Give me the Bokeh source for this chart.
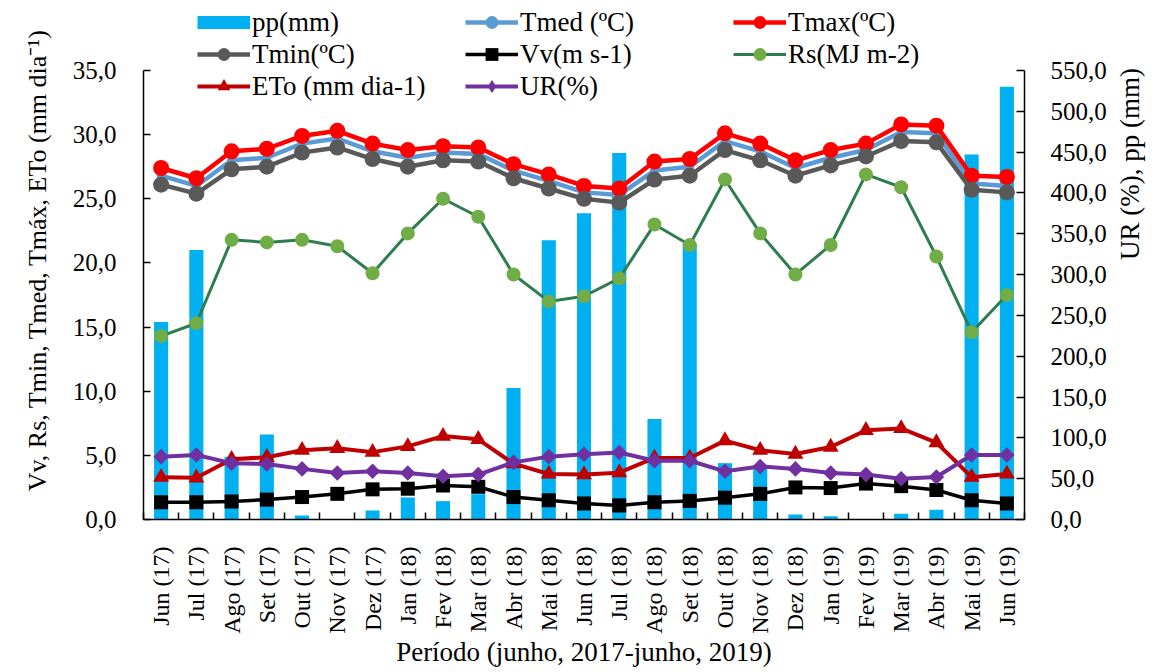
import math
from bokeh.plotting import figure
from bokeh.models import (Range1d, LinearAxis, SingleIntervalTicker, FixedTicker, Title,
                          CustomJSTickFormatter, Legend, LegendItem, ColumnDataSource)
from bokeh.embed import file_html
from bokeh.resources import INLINE

months = ["Jun (17)", "Jul (17)", "Ago (17)", "Set (17)", "Out (17)", "Nov (17)", "Dez (17)",
          "Jan (18)", "Fev (18)", "Mar (18)", "Abr (18)", "Mai (18)", "Jun (18)", "Jul (18)",
          "Ago (18)", "Set (18)", "Out (18)", "Nov (18)", "Dez (18)", "Jan (19)", "Fev (19)",
          "Mar (19)", "Abr (19)", "Mai (19)", "Jun (19)"]

pp = [242, 330, 77, 104, 5, 0, 11, 27, 22.5, 31, 161, 342, 375, 449, 123, 338, 69, 66,
      6, 4, 0, 7, 12, 447, 530]
tmed = [26.8, 26.0, 28.0, 28.2, 29.3, 29.7, 28.7, 28.2, 28.6, 28.5, 27.2, 26.4, 25.5, 25.3,
        27.2, 27.5, 29.5, 28.7, 27.4, 28.2, 28.8, 30.2, 30.1, 26.2, 26.0]
tmax = [27.4, 26.6, 28.7, 28.9, 29.9, 30.3, 29.3, 28.8, 29.1, 29.0, 27.7, 26.9, 26.0, 25.8,
        27.9, 28.1, 30.1, 29.3, 28.0, 28.8, 29.3, 30.8, 30.7, 26.8, 26.7]
tmin = [26.1, 25.4, 27.3, 27.5, 28.6, 29.0, 28.1, 27.5, 28.0, 27.9, 26.6, 25.8, 25.0, 24.7,
        26.5, 26.8, 28.8, 28.0, 26.8, 27.6, 28.3, 29.5, 29.4, 25.7, 25.5]
vv = [1.35, 1.35, 1.4, 1.55, 1.75, 2.0, 2.35, 2.4, 2.65, 2.55, 1.75, 1.5, 1.25, 1.1,
      1.35, 1.45, 1.7, 2.0, 2.5, 2.45, 2.8, 2.6, 2.3, 1.5, 1.25]
rs = [14.3, 15.3, 21.8, 21.6, 21.8, 21.3, 19.2, 22.3, 25.0, 23.6, 19.1, 17.0, 17.4, 18.8,
      23.0, 21.4, 26.5, 22.3, 19.1, 21.4, 26.9, 25.9, 20.5, 14.6, 17.5]
eto = [3.3, 3.25, 4.7, 4.85, 5.4, 5.55, 5.25, 5.7, 6.5, 6.25, 4.35, 3.55, 3.5, 3.65,
       4.8, 4.8, 6.15, 5.4, 5.1, 5.65, 6.95, 7.1, 6.0, 3.3, 3.55]
ur = [77, 79, 69, 68, 62, 57, 59, 57, 53, 55, 70, 77, 80, 82, 72, 72, 59, 65, 62, 57,
      55, 50, 52, 79, 79]

left_max = 35
right_max = 550
left_ticks_interval = 5
right_ticks_interval = 50

W, H = 1163, 672
BORDER_L, BORDER_R, BORDER_B = 143, 139, 153
AXIS_TOP_PX = 70          # room above the axis tops, inside the frame, for the legend
RIGHT_TITLE_START_PX = 399  # where the right axis title starts (its lower end)
frame_h = H - BORDER_B
left_end = left_max * frame_h / (frame_h - AXIS_TOP_PX)
right_end = right_max * frame_h / (frame_h - AXIS_TOP_PX)
right_title_anchor = (frame_h - RIGHT_TITLE_START_PX) * right_end / frame_h

x = list(range(len(months)))
tick_labels = [m.replace(" ", "\u00a0") for m in months]
src = ColumnDataSource(dict(x=x, pp=pp, tmed=tmed, tmax=tmax, tmin=tmin, vv=vv, rs=rs,
                            eto=eto, ur=ur))
# legend-only glyphs: a single undefined point, so nothing is drawn in the plot
leg_src = ColumnDataSource(dict(x=[float("nan")], y=[float("nan")]))

FONT = "Liberation Serif"

p = figure(width=W, height=H, x_range=Range1d(-0.5, len(months) - 0.5),
           y_range=Range1d(0, left_end), output_backend="svg", toolbar_location=None,
           min_border_left=BORDER_L, min_border_right=BORDER_R, min_border_top=0,
           min_border_bottom=BORDER_B)
p.extra_y_ranges = {"right": Range1d(0, right_end)}
p.outline_line_color = None
p.xgrid.visible = False
p.ygrid.visible = False

fmt_code = "return tick.toFixed(1).replace('.', ',');"

# left axis
ya = p.yaxis[0]
ya.ticker = SingleIntervalTicker(interval=left_ticks_interval, num_minor_ticks=0)
ya.formatter = CustomJSTickFormatter(code=fmt_code)
ya.bounds = (0, left_max)
ya.major_tick_in = 7
ya.major_tick_out = 0
ya.minor_tick_line_color = None
ya.major_label_standoff = 27

# right axis (ticks and numbers)
ra = LinearAxis(y_range_name="right",
                ticker=SingleIntervalTicker(interval=right_ticks_interval, num_minor_ticks=0),
                formatter=CustomJSTickFormatter(code=fmt_code), bounds=(0, right_max))
ra.major_tick_in = 8
ra.major_tick_out = 0
ra.minor_tick_line_color = None
ra.major_label_standoff = 26
p.add_layout(ra, "right")

# bottom axis
xa = p.xaxis[0]
xa.ticker = FixedTicker(ticks=x, minor_ticks=[i - 0.5 for i in range(len(months) + 1)])
xa.formatter = CustomJSTickFormatter(args=dict(labels=tick_labels),
                                     code="const i = Math.round(tick); return labels[i] || '';")
xa.major_label_orientation = math.pi / 2
xa.major_tick_in = 0
xa.major_tick_out = 0
xa.minor_tick_in = 7
xa.minor_tick_out = 0
xa.axis_label = "Período (junho, 2017-junho, 2019)"
xa.major_label_standoff = 27
xa.axis_label_standoff = 0

for ax in [ya, ra, xa]:
    ax.axis_line_color = "black"
    ax.axis_line_width = 1.5
    ax.major_tick_line_color = "black"
    ax.major_tick_line_width = 1.5
    ax.major_label_text_font = FONT
    ax.major_label_text_font_size = "25px"
    ax.major_label_text_color = "black"
    ax.axis_label_text_font = FONT
    ax.axis_label_text_font_size = "27px"
    ax.axis_label_text_font_style = "normal"
    ax.axis_label_text_color = "black"
xa.major_label_text_font_size = "24px"
xa.minor_tick_line_color = "black"
xa.minor_tick_line_width = 1.5

# right axis title, carried by a bare axis (no line, no ticks) so it reads upwards
# and sits over the lower part of the right scale, as in the reference
rt = LinearAxis(y_range_name="right", ticker=FixedTicker(ticks=[]),
                bounds=(0, 2 * right_title_anchor), axis_label="UR (%), pp (mm)")
rt.axis_label_orientation = math.pi / 2
rt.axis_line_color = None
rt.major_tick_line_color = None
rt.minor_tick_line_color = None
rt.major_tick_in = 0
rt.major_tick_out = 0
rt.minor_tick_in = 0
rt.minor_tick_out = 0
rt.axis_label_standoff = 20
rt.axis_label_text_font = FONT
rt.axis_label_text_font_size = "27px"
rt.axis_label_text_font_style = "normal"
rt.axis_label_text_color = "black"
p.add_layout(rt, "right")

# left axis title, centred on the 0..35 part of the axis as in the reference
left_title = Title(text="Vv, Rs, Tmin, Tmed, Tmáx, ETo (mm dia\u207b\u00b9)", align="center",
                   offset=-52, standoff=36, text_font=FONT, text_font_size="26px",
                   text_font_style="normal", text_color="black")
p.add_layout(left_title, "left")

# bars
bars = p.vbar(x="x", top="pp", width=0.4, source=src, y_range_name="right",
              fill_color="#00B0F0", line_color=None)
bars_leg = p.line("x", "y", source=leg_src, line_color="#00B0F0", line_width=13)

# Tmed
l_tmed = p.line("x", "tmed", source=src, line_color="#5B9BD5", line_width=4.5)
p.scatter("x", "tmed", source=src, marker="circle", size=9, fill_color="#5B9BD5",
          line_color=None)
m_tmed_leg = p.scatter("x", "y", source=leg_src, marker="circle", size=15,
                       fill_color="#5B9BD5", line_color=None)
# Tmax
l_tmax = p.line("x", "tmax", source=src, line_color="#FF0000", line_width=4.5)
m_tmax = p.scatter("x", "tmax", source=src, marker="circle", size=16, fill_color="#FF0000",
                   line_color=None)
# Tmin
l_tmin = p.line("x", "tmin", source=src, line_color="#595959", line_width=4.5)
m_tmin = p.scatter("x", "tmin", source=src, marker="circle", size=16, fill_color="#595959",
                   line_color=None)
# Vv
l_vv = p.line("x", "vv", source=src, line_color="black", line_width=3.5)
m_vv = p.scatter("x", "vv", source=src, marker="square", size=14, fill_color="black",
                 line_color=None)
# Rs
l_rs = p.line("x", "rs", source=src, line_color="#2E7D4F", line_width=3)
m_rs = p.scatter("x", "rs", source=src, marker="circle", size=14, fill_color="#70AD47",
                 line_color=None)
# ETo
l_eto = p.line("x", "eto", source=src, line_color="#C00000", line_width=4)
m_eto = p.scatter("x", "eto", source=src, marker="triangle", size=16, fill_color="#C00000",
                  line_color=None)
# UR
l_ur = p.line("x", "ur", source=src, line_color="#7030A0", line_width=4, y_range_name="right")
m_ur = p.scatter("x", "ur", source=src, marker="square", angle=0.785398, size=11,
                 fill_color="#7030A0", line_color=None, y_range_name="right")
m_ur_leg = p.scatter("x", "y", source=leg_src, marker="diamond", size=15,
                     fill_color="#7030A0", line_color=None)

legend = Legend(items=[LegendItem(label="pp(mm)", renderers=[bars_leg]),
                       LegendItem(label="Tmed (ºC)", renderers=[l_tmed, m_tmed_leg]),
                       LegendItem(label="Tmax(ºC)", renderers=[l_tmax, m_tmax]),
                       LegendItem(label="Tmin(ºC)", renderers=[l_tmin, m_tmin]),
                       LegendItem(label="Vv(m s-1)", renderers=[l_vv, m_vv]),
                       LegendItem(label="Rs(MJ m-2)", renderers=[l_rs, m_rs]),
                       LegendItem(label="ETo (mm dia-1)", renderers=[l_eto, m_eto]),
                       LegendItem(label="UR(%)", renderers=[l_ur, m_ur_leg])],
                location=(54, frame_h - 102), orientation="horizontal", ncols=3, nrows=3,
                glyph_width=53, glyph_height=32, label_standoff=2, label_width=213,
                spacing=0, padding=0, margin=0, label_text_font=FONT,
                label_text_font_size="27px", label_text_color="black",
                background_fill_alpha=0, border_line_color=None)
p.add_layout(legend, "center")

open("out.html", "w").write(file_html(p, INLINE))
